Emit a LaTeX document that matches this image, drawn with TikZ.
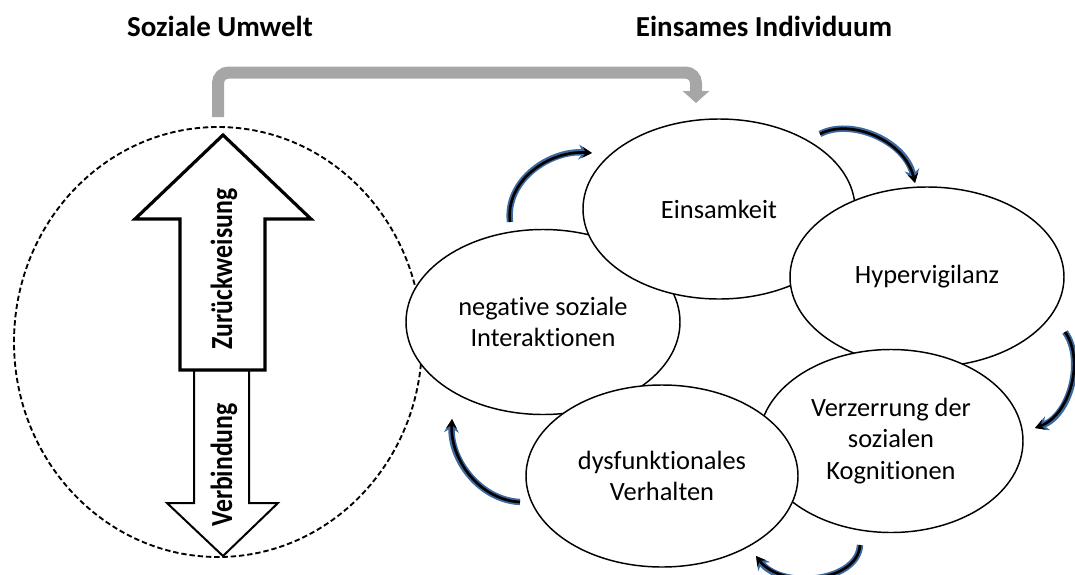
\documentclass[tikz,border=0pt]{standalone}
\usepackage{fontspec}
\usepackage{graphicx}
\setmainfont{Carlito}[Ligatures={TeX,NoCommon}]
\usetikzlibrary{arrows.meta,shapes.geometric}
\definecolor{halo}{RGB}{60,105,160}
\definecolor{conngray}{RGB}{166,166,166}
\begin{document}
\begin{tikzpicture}[x=0.75pt,y=-0.75pt,
  bubble/.style={ellipse,draw=black,line width=1.1pt,fill=white,inner sep=0pt,align=center,font=\fontsize{19.8}{23.6}\selectfont},
  title/.style={font=\fontsize{21.75}{26}\selectfont\bfseries},
  arrlabel/.style={rotate=90,inner sep=0pt,font=\fontsize{23}{26}\selectfont\bfseries},
  cyc/.style={draw=black,line width=2pt,-{Stealth[length=7pt,width=8pt]},
    preaction={draw=halo,line width=4.8pt,-{Stealth[length=10pt,width=11pt]}}},
  grayconn/.style={draw=conngray,line width=9pt,rounded corners=8pt,-{Triangle[width=19.5pt,length=9pt]}},
  bigarrow/.style={draw=black,fill=white,line join=miter}
]
\useasboundingbox (0,0) rectangle (1075,575);

% titles
\node[title] (t1) at (220,26) {Soziale Umwelt};
\node[title] (t2) at (764,26) {Einsames Individuum};

% social environment circle
\node[ellipse,draw=black,dashed,dash pattern=on 4pt off 2.2pt,line width=1.4pt,minimum width=306pt,minimum height=322.5pt,inner sep=0pt] (circ) at (218,342) {};

% down arrow (Verbindung)
\draw[bigarrow,line width=1.5pt] (194,370) -- (194,503) -- (167,503) -- (223,556) -- (278,503) -- (249,503) -- (249,370) -- cycle;
% up arrow (Zurückweisung)
\draw[bigarrow,line width=2.4pt] (223,135) -- (311,219) -- (265,219) -- (265,370) -- (180,370) -- (180,219) -- (135,219) -- cycle;
\node[arrlabel] (zw) at (224,269) {\scalebox{0.84}[1]{Zurückweisung}};
\node[arrlabel] (vb) at (224,465) {\scalebox{0.84}[1]{Verbindung}};

% ellipses
\node[bubble,minimum width=205.5pt,minimum height=138.75pt] (neg) at (543,322) {negative soziale\\Interaktionen};
\node[bubble,minimum width=204pt,minimum height=135pt] (ein) at (719,209) {Einsamkeit};
\node[bubble,minimum width=205.5pt,minimum height=135pt] (hyp) at (927,277) {Hypervigilanz};
\node[bubble,minimum width=198pt,minimum height=137.25pt] (ver) at (891,441) {Verzerrung der\\sozialen\\Kognitionen};
\node[bubble,minimum width=204pt,minimum height=136.5pt] (dys) at (662,476) {dysfunktionales\\Verhalten};

% gray connector
\coordinate (gs) at (218,117);
\coordinate (gtop) at (457,72.5);
\coordinate (ge) at (696,103);
\draw[grayconn] (gs) |- (gtop) -| (ge);

% cycle arrows
\coordinate (a1s) at (510,222); \coordinate (a1e) at (592,153);
\coordinate (a2s) at (820,134); \coordinate (a2e) at (915,183);
\coordinate (a3s) at (1065,332); \coordinate (a3e) at (1035,428);
\coordinate (a4s) at (860,545); \coordinate (a4e) at (756,556);
\coordinate (a5s) at (520,502); \coordinate (a5e) at (452,419);
\draw[cyc] (a1s) .. controls (505,180) and (550,150) .. (a1e);
\draw[cyc] (a2s) .. controls (850,118) and (905,140) .. (a2e);
\draw[cyc] (a3s) .. controls (1085,360) and (1070,415) .. (a3e);
\draw[cyc] (a4s) .. controls (858,582) and (782,590) .. (a4e);
\draw[cyc] (a5s) .. controls (480,500) and (450,460) .. (a5e);
\end{tikzpicture}
\end{document}
